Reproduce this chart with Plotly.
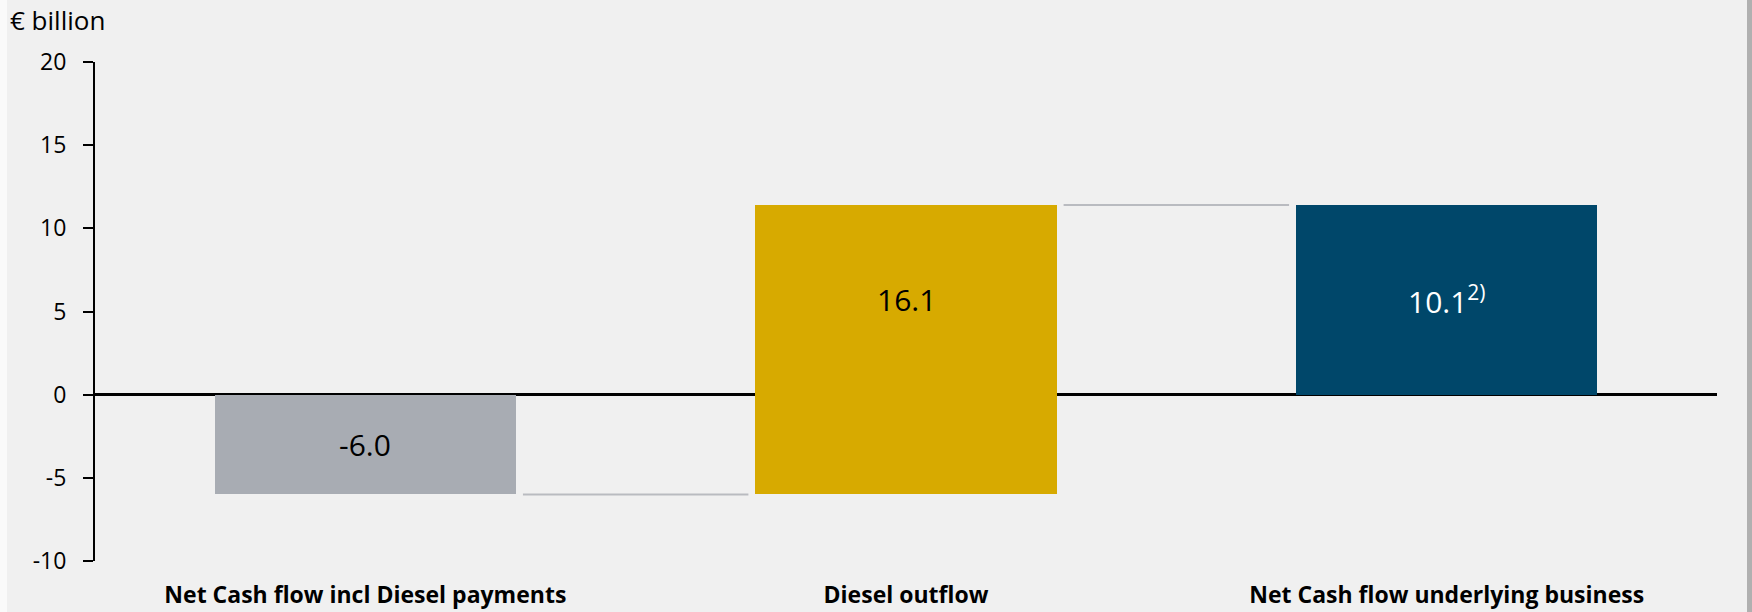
import plotly.graph_objects as go

# ---- data ----
categories = ["Net Cash flow incl Diesel payments", "Diesel outflow", "Net Cash flow underlying business"]
bar_start = [0.0, -6.0, 0.0]
bar_end = [-6.0, 11.4, 11.4]
value_labels = ["-6.0", "16.1", "10.1<sup>2)</sup>"]
bar_colors = ["#A8ACB3", "#D7AA00", "#00476A"]
label_colors = ["#000000", "#000000", "#FFFFFF"]
y_ticks = [-10, -5, 0, 5, 10, 15, 20]
unit_label = "€ billion"

FONT = "Open Sans"
BAR_W = 0.557
GAP = 0.013

W, H = 1752, 612
ML, MR, MT, MB = 95, 35, 62, 51
PW, PH = W - ML - MR, H - MT - MB

xs = list(range(len(categories)))

fig = go.Figure()
fig.add_trace(go.Bar(
    x=xs,
    y=[e - s for s, e in zip(bar_start, bar_end)],
    base=bar_start,
    width=BAR_W,
    marker=dict(color=bar_colors, line=dict(width=0)),
    hoverinfo="skip",
    showlegend=False,
))

# connectors between bars
for i in range(len(categories) - 1):
    fig.add_trace(go.Scatter(
        x=[xs[i] + BAR_W / 2 + GAP, xs[i + 1] - BAR_W / 2 - GAP],
        y=[bar_end[i], bar_end[i]],
        mode="lines",
        line=dict(color="#B9BBC0", width=2),
        hoverinfo="skip",
        showlegend=False,
    ))

annotations = []
for i, (lab, col) in enumerate(zip(value_labels, label_colors)):
    annotations.append(dict(
        x=xs[i], y=bar_end[i] / 2, xref="x", yref="y",
        text=lab, showarrow=False,
        font=dict(family=FONT, size=30, color=col),
    ))
annotations.append(dict(
    x=(8 - ML) / PW, y=1 + (MT - 20) / PH, xref="paper", yref="paper",
    xanchor="left", yanchor="middle",
    text=unit_label, showarrow=False,
    font=dict(family=FONT, size=26, color="#000000"),
))

shapes = [
    dict(type="rect", xref="paper", yref="paper",
         x0=-ML / PW, x1=(7 - ML) / PW, y0=-MB / PH, y1=1 + MT / PH,
         fillcolor="#FAFAFA", line=dict(width=0), layer="below"),
    dict(type="rect", xref="paper", yref="paper",
         x0=(W - 5 - ML) / PW, x1=(W - ML) / PW, y0=-MB / PH, y1=1 + MT / PH,
         fillcolor="#B0B0B0", line=dict(width=0), layer="above"),
]

fig.update_layout(
    width=W, height=H, autosize=False,
    margin=dict(l=ML, r=MR, t=MT, b=MB, pad=0, autoexpand=False),
    paper_bgcolor="#F0F0F0",
    plot_bgcolor="#F0F0F0",
    font=dict(family=FONT, color="#000000"),
    annotations=annotations,
    shapes=shapes,
    bargap=0,
)
fig.update_xaxes(
    range=[-0.5, 2.5],
    tickmode="array", tickvals=xs,
    ticktext=["<b>%s</b>" % c for c in categories],
    tickfont=dict(family=FONT, size=23, color="#000000"),
    showgrid=False, showline=False, zeroline=False,
    ticks="", ticklabelstandoff=18,
    automargin=False,
    fixedrange=True,
)
fig.update_yaxes(
    range=[-10, 20],
    tickmode="array", tickvals=y_ticks,
    ticktext=[str(t) for t in y_ticks],
    tickfont=dict(family=FONT, size=23, color="#000000"),
    showgrid=False,
    showline=True, linecolor="#000000", linewidth=2,
    ticks="outside", ticklen=10, tickwidth=2, tickcolor="#000000",
    ticklabelstandoff=12,
    zeroline=True, zerolinecolor="#000000", zerolinewidth=3,
    automargin=False,
    fixedrange=True,
)

fig.write_html(
    "out.html",
    config={"displayModeBar": False, "responsive": False},
    post_script=(
        "document.documentElement.style.margin='0';"
        "document.documentElement.style.overflow='hidden';"
        "document.body.style.margin='0';"
        "document.body.style.overflow='hidden';"
    ),
)
